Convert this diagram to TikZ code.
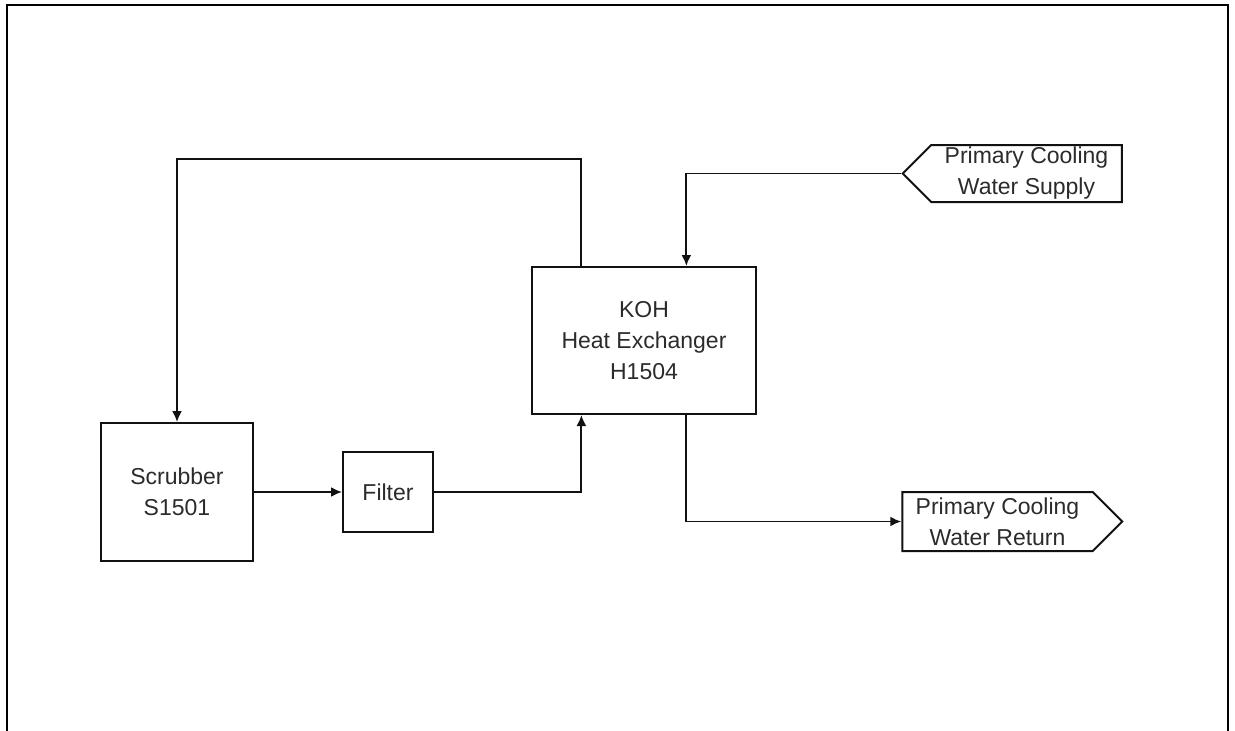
\documentclass[tikz,border=0pt]{standalone}
\usepackage{fontspec}
\setmainfont{Liberation Sans}
\usepackage{tikz}
\usetikzlibrary{arrows.meta,positioning,shapes.symbols,calc}
\definecolor{pfdline}{HTML}{111111}
\definecolor{pfdtext}{HTML}{2B2B2B}

\begin{document}
\begin{tikzpicture}[x=1pt,y=-1pt,
    unit/.style={draw=pfdline,line width=2pt,align=center,text=pfdtext,
        font=\fontsize{23}{31}\selectfont,inner sep=0pt},
    offpage/.style={unit,signal,signal pointer angle=90},
    flow/.style={-{Latex[length=11pt,width=10pt]},line width=1.9pt,pfdline}]
    \useasboundingbox (0,0) rectangle (1235,731);
    % page frame, open at the bottom
    \draw[line width=2.8pt] (7,731) -- (7,5) -- (1228,5) -- (1228,731);
    % units
    \node[unit,minimum width=152pt,minimum height=138pt] (scrubber) at (177,492) {Scrubber\\S1501};
    \node[unit,minimum width=90pt,minimum height=80pt] (filter) at (388,492) {Filter};
    \node[unit,minimum width=224pt,minimum height=147pt] (hx) at (644,340.5) {KOH\\Heat Exchanger\\H1504};
    \node[offpage,signal to=west,minimum width=219pt,minimum height=57pt] (cwsupply) at (1026.5,173.5) {Primary Cooling\\Water Supply};
    \node[offpage,signal to=east,minimum width=220pt,minimum height=59pt] (cwreturn) at (997.5,521.5) {Primary Cooling\\Water Return};
    % nozzles on the exchanger
    \coordinate (kohin) at ($(hx.south west)!0.223!(hx.south east)$);
    \coordinate (kohout) at ($(hx.north west)!0.223!(hx.north east)$);
    \coordinate (cwin) at ($(hx.north west)!0.6875!(hx.north east)$);
    \coordinate (cwout) at ($(hx.south west)!0.6875!(hx.south east)$);
    % KOH loop
    \draw[flow] (scrubber) -- (filter);
    \draw[flow] (filter.east) -| (kohin);
    \draw[flow] (kohout) -- ++(0,-107) -| (scrubber.north);
    % cooling water
    \draw[flow] (cwsupply.west) -| (cwin);
    \draw[flow] (cwout) |- (cwreturn.west);
\end{tikzpicture}
\end{document}
